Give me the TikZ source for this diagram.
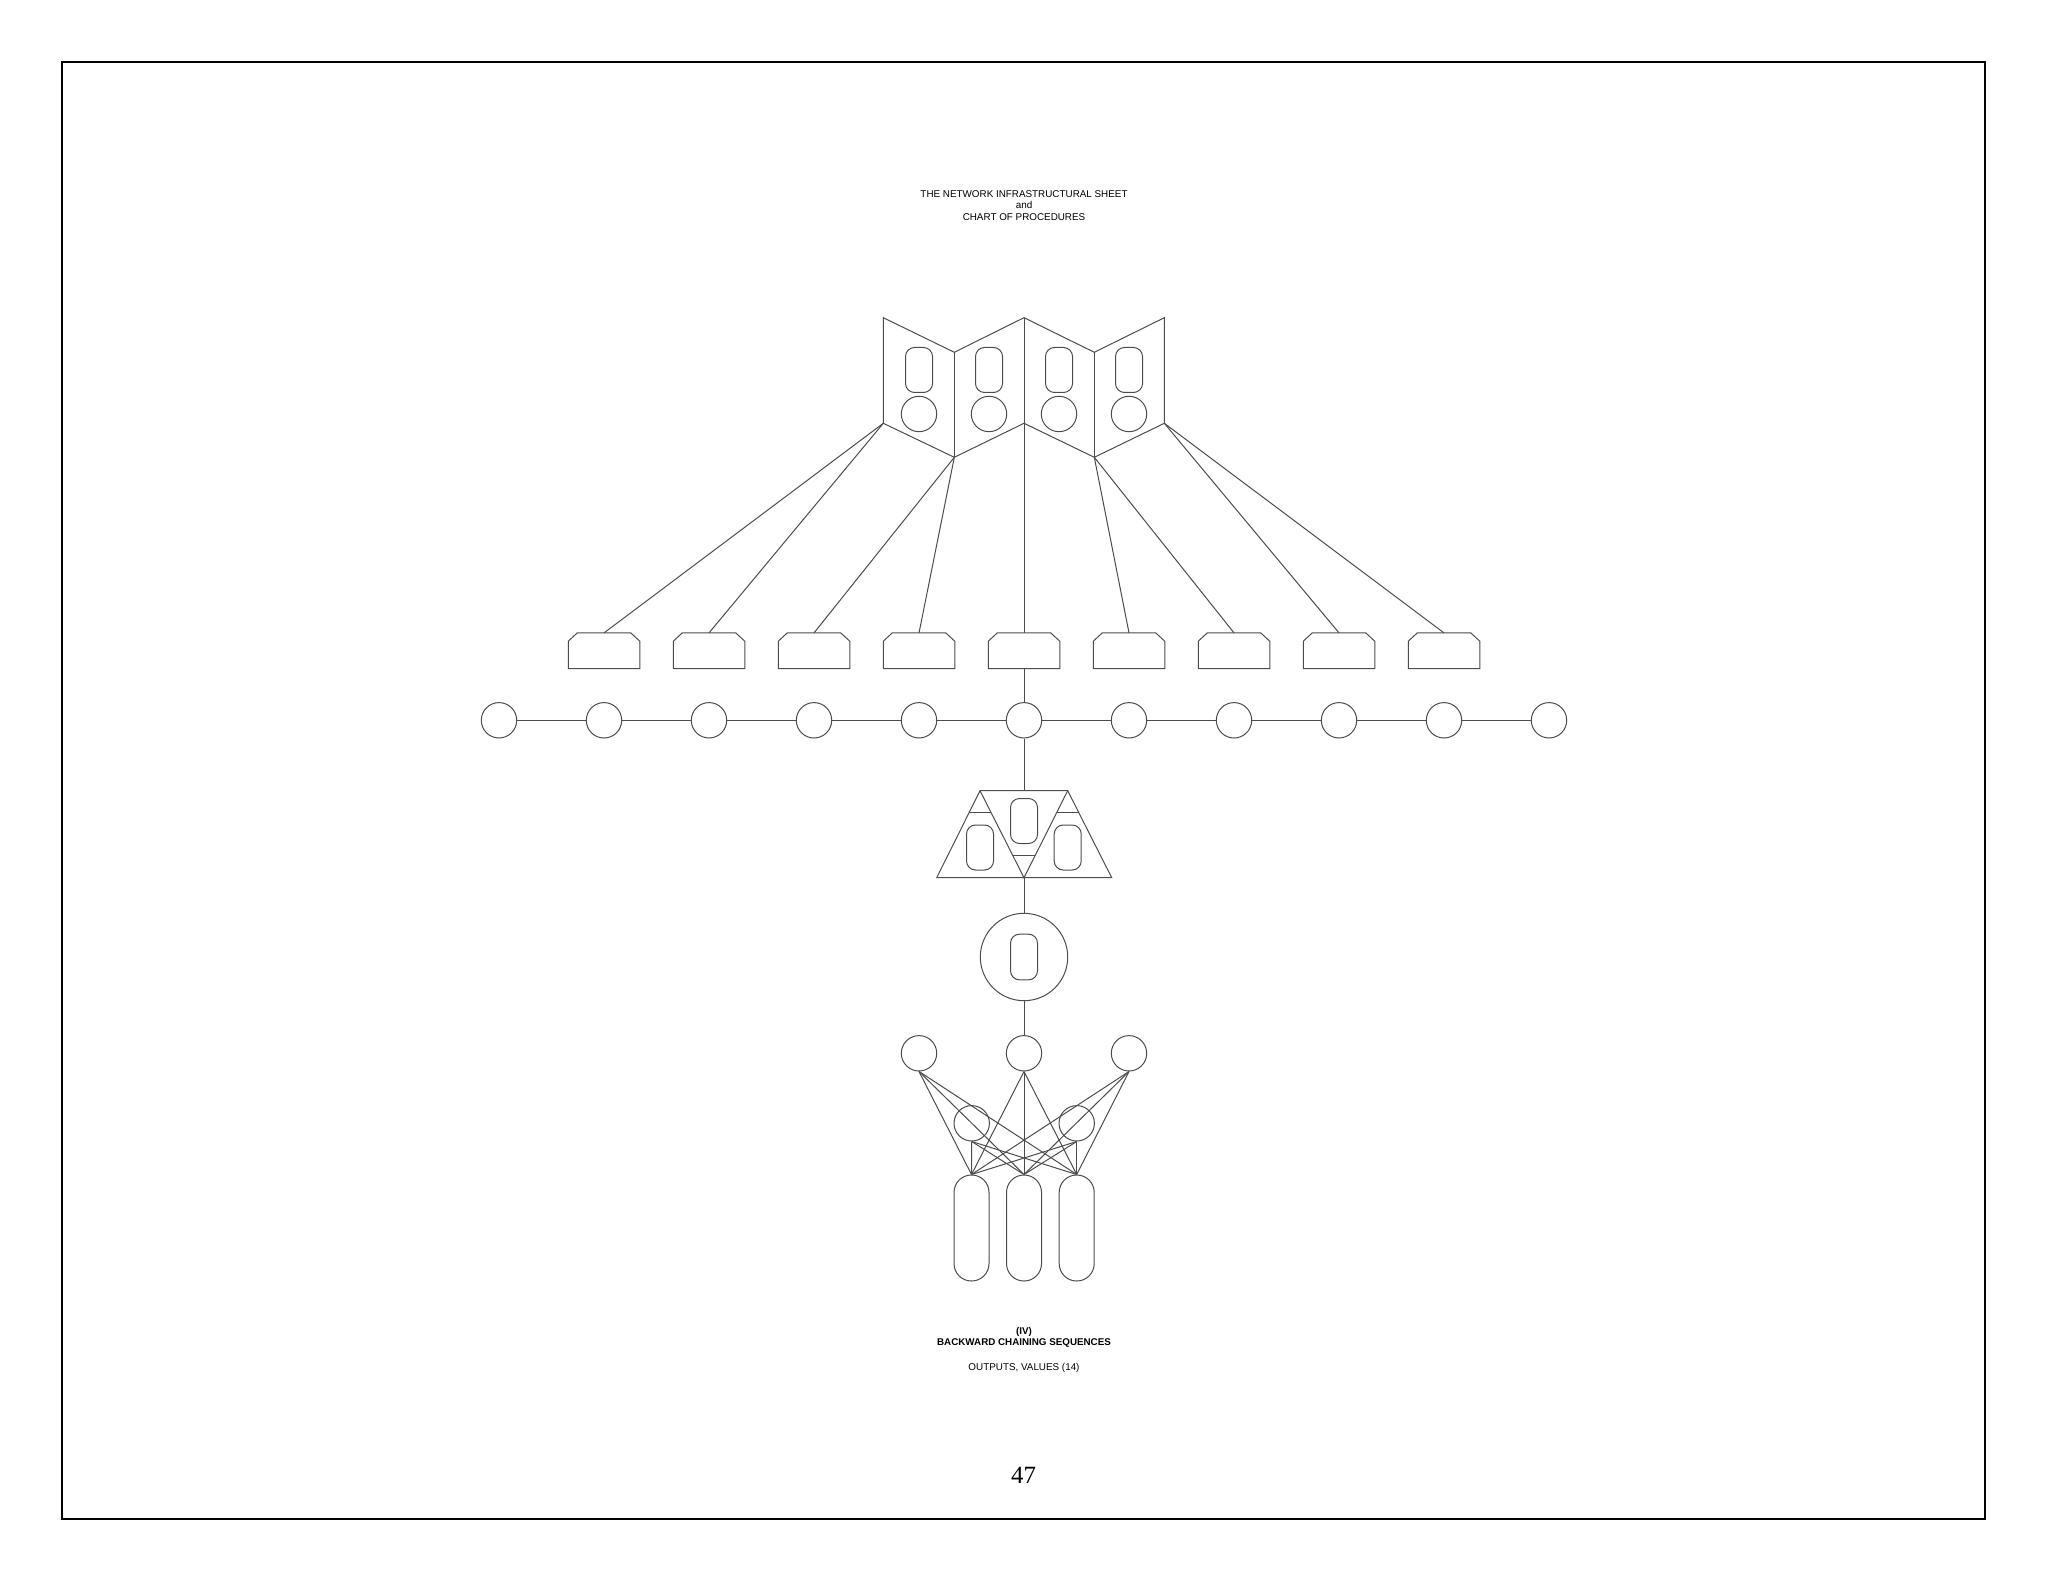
\documentclass[tikz,border=0pt]{standalone}
\usepackage{fontspec}
\setmainfont{Liberation Sans}
\newfontfamily\pagenumfont{Liberation Serif}
\usetikzlibrary{calc}
\begin{document}
\begin{tikzpicture}[x=0.5pt,y=-0.5pt,
  ln/.style={draw=black!70, line width=0.5pt},
  dot/.style={circle, ln, inner sep=0pt, minimum size=17.7pt},
  pill/.style={rectangle, rounded corners=4.5pt, ln, inner sep=0pt, minimum width=13.5pt, minimum height=22.5pt},
  boxnode/.style={rectangle, inner sep=0pt, minimum width=35.35pt, minimum height=17.5pt},
  tallpill/.style={rectangle, rounded corners=8.7pt, ln, inner sep=0pt, minimum width=17.5pt, minimum height=53pt},
  bigdot/.style={circle, ln, inner sep=0pt, minimum size=43.7pt},
  txt/.style={font=\fontsize{4.93}{5.6}\selectfont, inner sep=0pt, anchor=base},
  txtb/.style={font=\fontsize{4.9}{5.6}\selectfont\bfseries, inner sep=0pt, anchor=base}]
\useasboundingbox (0,0) rectangle (2048,1582);
\draw[line width=1pt, black] (62,62) rectangle (1985,1519);

% titles
\node[txt] (title1) at (1024,197.8) {THE NETWORK INFRASTRUCTURAL SHEET};
\node[txt] (title2) at (1024,208.6) {and};
\node[txt] (title3) at (1024,220.2) {CHART OF PROCEDURES};

% folded screen
\coordinate (s0t) at (883.3,317.7); \coordinate (s0b) at (883.3,423.3);
\coordinate (s1t) at (954.3,352.3); \coordinate (s1b) at (954.3,457.3);
\coordinate (s2t) at (1024,317.7);  \coordinate (s2b) at (1024,423.3);
\coordinate (s3t) at (1094.3,352.3); \coordinate (s3b) at (1094.3,457.3);
\coordinate (s4t) at (1164.3,317.7); \coordinate (s4b) at (1164.3,423.3);
\draw[ln, line join=miter] (s0t) -- (s1t) -- (s2t) -- (s3t) -- (s4t) -- (s4b) -- (s3b) -- (s2b) -- (s1b) -- (s0b) -- cycle;
\draw[ln] (s1t) -- (s1b) (s2t) -- (s2b) (s3t) -- (s3b);
\foreach \i in {0,...,3} {
  \node[pill] (sp\i) at ({919+70*\i},370) {};
  \node[dot] (sc\i) at ({919+70*\i},414) {};
}

% boxes
\foreach \i in {0,...,8} {
  \node[boxnode] (b\i) at ({604+105*\i},650.8) {};
  \draw[ln] ([yshift=-4.15pt]b\i.north west) -- ([xshift=4.5pt]b\i.north west) -- ([xshift=-4.5pt]b\i.north east) -- ([yshift=-4.15pt]b\i.north east) -- (b\i.south east) -- (b\i.south west) -- cycle;
}
\draw[ln] (s0b) -- (b0.north);
\draw[ln] (s0b) -- (b1.north);
\draw[ln] (s1b) -- (b2.north);
\draw[ln] (s1b) -- (b3.north);
\draw[ln] (s2b) -- (b4.north);
\draw[ln] (s3b) -- (b5.north);
\draw[ln] (s3b) -- (b6.north);
\draw[ln] (s4b) -- (b7.north);
\draw[ln] (s4b) -- (b8.north);

% circle row
\foreach \i in {0,...,10} {
  \node[dot] (c\i) at ({499+105*\i},720.3) {};
}
\foreach \i [evaluate=\i as \j using int(\i+1)] in {0,...,9} {
  \draw[ln] (c\i) -- (c\j);
}
\draw[ln] (b4.south) -- (c5.north);

% trapezoid
\coordinate (tl) at (980,790.7); \coordinate (tr) at (1067.7,790.7);
\coordinate (tm) at (1024,790.7);
\coordinate (bl) at (936.7,877.7); \coordinate (br) at (1111.7,877.7);
\coordinate (bm) at (1024,877.7);
\draw[ln] (bl) -- (tl) -- (tr) -- (br) -- cycle;
\draw[ln] (tl) -- (bm) -- (tr);
\draw[ln] ($(tl)!0.253!(bl)$) -- ($(tl)!0.253!(bm)$);
\draw[ln] ($(tr)!0.253!(br)$) -- ($(tr)!0.253!(bm)$);
\draw[ln] ($(bm)!0.253!(tl)$) -- ($(bm)!0.253!(tr)$);
\node[pill] (tp0) at (1024,821) {};
\node[pill] (tp1) at (980,847.5) {};
\node[pill] (tp2) at (1067.7,847.5) {};
\draw[ln] (c5.south) -- (tm);

% big circle
\node[bigdot] (bigc) at (1024,957) {};
\node[pill, minimum height=22.85pt] (bp) at (1024,957) {};
\draw[ln] (bm) -- (bigc.north);

% crown
\node[dot] (t0) at (919,1053.3) {};
\node[dot] (t1) at (1024,1053.3) {};
\node[dot] (t2) at (1129,1053.3) {};
\node[dot] (m0) at (971.7,1123.3) {};
\node[dot] (m1) at (1076.7,1123.3) {};
\node[tallpill] (p0) at (971.5,1228) {};
\node[tallpill] (p1) at (1024,1228) {};
\node[tallpill] (p2) at (1076.7,1228) {};
\draw[ln] (bigc.south) -- (t1.north);
\foreach \a in {t0,t1,t2,m0,m1} {
  \foreach \b in {p0,p1,p2} {
    \draw[ln] (\a.south) -- (\b.north);
  }
}

% bottom texts
\node[txtb] (cap1) at (1024,1334.2) {(IV)};
\node[txtb] (cap2) at (1024,1345.8) {BACKWARD CHAINING SEQUENCES};
\node[txt] (cap3) at (1024,1370.2) {OUTPUTS, VALUES (14)};
\node[font=\pagenumfont\fontsize{12.4}{14}\selectfont, inner sep=0pt, anchor=base] (pagenum) at (1023.5,1483.3) {47};
\end{tikzpicture}
\end{document}
